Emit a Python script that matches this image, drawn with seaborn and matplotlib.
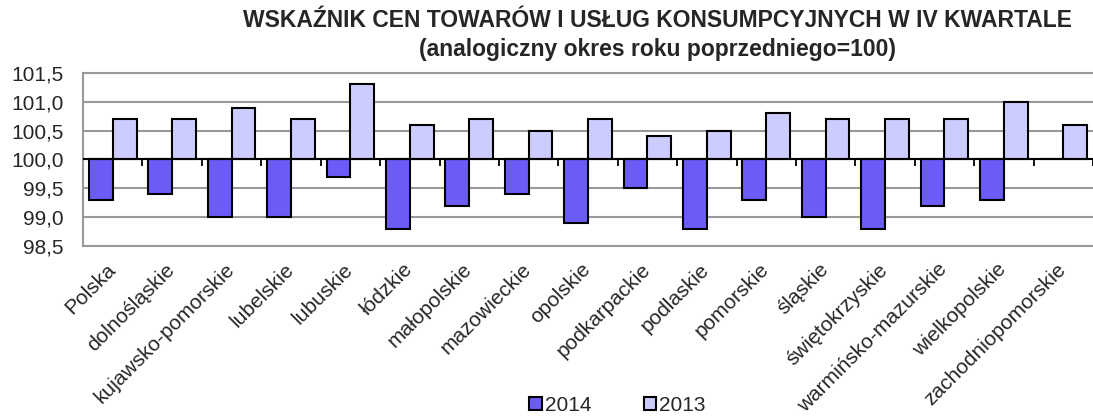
import numpy as np
import pandas as pd
import matplotlib
matplotlib.use("Agg")
import matplotlib.pyplot as plt
import matplotlib.transforms as mtransforms
import seaborn as sns
from matplotlib.ticker import FuncFormatter, FixedLocator

regions = ["Polska", "dolnośląskie", "kujawsko-pomorskie", "lubelskie", "lubuskie",
           "łódzkie", "małopolskie", "mazowieckie", "opolskie", "podkarpackie",
           "podlaskie", "pomorskie", "śląskie", "świętokrzyskie",
           "warmińsko-mazurskie", "wielkopolskie", "zachodniopomorskie"]
values_2014 = [99.3, 99.4, 99.0, 99.0, 99.7, 98.8, 99.2, 99.4, 98.9, 99.5,
               98.8, 99.3, 99.0, 98.8, 99.2, 99.3, 100.0]
values_2013 = [100.7, 100.7, 100.9, 100.7, 101.3, 100.6, 100.7, 100.5, 100.7, 100.4,
               100.5, 100.8, 100.7, 100.7, 100.7, 101.0, 100.6]
years = ["2014", "2013"]
base = 100.0


def pl_formatter(y, pos):
    return "{:.1f}".format(y + base).replace(".", ",")


df = pd.DataFrame({
    "region": regions * 2,
    "year": [years[0]] * len(regions) + [years[1]] * len(regions),
    "value": values_2014 + values_2013,
})
df["dev"] = df["value"] - base

sns.set_style("white")
plt.rcParams["font.family"] = ["Liberation Sans", "DejaVu Sans"]

fig = plt.figure(figsize=(10.93, 4.18), dpi=100)
ax = fig.add_axes([0.076, 0.4115, 0.924, 0.414])

sns.barplot(data=df, x="region", y="dev", hue="year", hue_order=years,
            palette=["#6B5CF7", "#CCCCFF"], edgecolor="black", linewidth=1.5,
            width=0.8, saturation=1, ax=ax, legend=True)

ax.set_ylim(-1.5, 1.5)
ax.set_xlim(-0.5, len(regions) - 0.5)
ax.set_yticks(np.arange(-1.5, 1.51, 0.5))
ax.yaxis.set_major_formatter(FuncFormatter(pl_formatter))
ax.yaxis.grid(True, color="#999999", linewidth=1.5)
ax.set_axisbelow(True)
for side in ["left", "bottom", "top"]:
    ax.spines[side].set_color("#999999")
    ax.spines[side].set_linewidth(1.5)
ax.spines["right"].set_visible(False)
ax.tick_params(axis="y", length=0, labelsize=15, pad=14)
ax.tick_params(axis="x", length=0, labelsize=15, pad=10)
ax.set_xlabel("")
ax.set_ylabel("")
shift = mtransforms.ScaledTranslation(-0.07, 0, fig.dpi_scale_trans)
for lbl in ax.get_xticklabels():
    lbl.set_rotation(45)
    lbl.set_ha("right")
    lbl.set_rotation_mode("anchor")
    lbl.set_transform(lbl.get_transform() + shift)

# category axis crossing at 100
secax = ax.secondary_xaxis(0.5)
secax.xaxis.tick_bottom()
secax.xaxis.set_major_locator(FixedLocator(np.arange(-0.5, len(regions), 1)))
secax.set_xticklabels([])
secax.tick_params(axis="x", direction="out", length=5, width=1.3, color="black")
secax.spines["top"].set_visible(False)
secax.spines["bottom"].set_color("black")
secax.spines["bottom"].set_linewidth(1.5)
ax.axhline(0, color="black", linewidth=1.5, zorder=3)

handles, labels = ax.get_legend_handles_labels()
ax.get_legend().remove()
fig.legend(handles, labels, loc="lower center", bbox_to_anchor=(0.565, 0.008),
           ncol=2, frameon=False, fontsize=15, handlelength=0.6, handleheight=0.6,
           handletextpad=0.15, columnspacing=2.5, borderaxespad=0, borderpad=0)

fig.text(0.602, 0.978, "WSKAŹNIK CEN TOWARÓW I USŁUG KONSUMPCYJNYCH W IV KWARTALE\n"
         "(analogiczny okres roku poprzedniego=100)",
         ha="center", va="top", fontsize=16.5, fontweight="bold", linespacing=1.3)

plt.savefig("out.png", dpi=100)
plt.close()
